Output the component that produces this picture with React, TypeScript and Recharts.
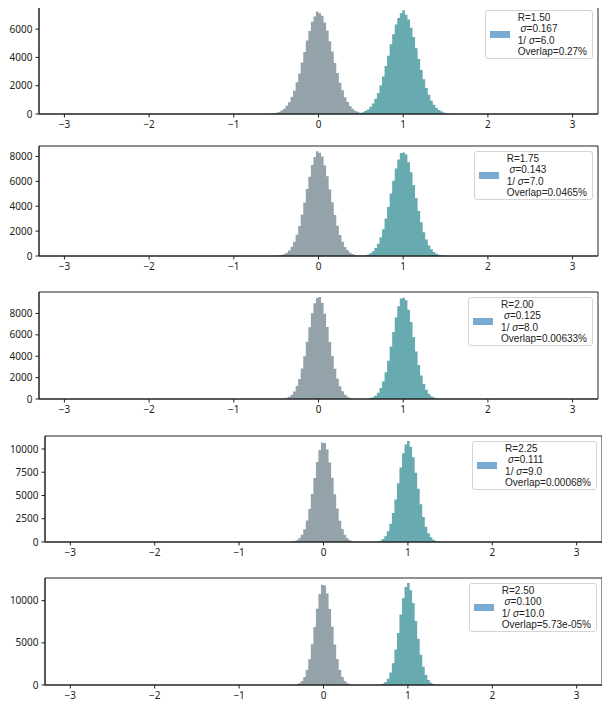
import React from 'react';
import { ComposedChart, Area, XAxis, YAxis, Legend, ReferenceArea } from 'recharts';

// Shared histogram bin edges (bin width 0.03)
const binEdges = [
  -0.66, -0.63, -0.6, -0.57, -0.54, -0.51, -0.48, -0.45, -0.42, -0.39, -0.36, -0.33, -0.3, -0.27, -0.24, -0.21,
  -0.18, -0.15, -0.12, -0.09, -0.06, -0.03, 0, 0.03, 0.06, 0.09, 0.12, 0.15, 0.18, 0.21, 0.24, 0.27, 0.3, 0.33,
  0.36, 0.39, 0.42, 0.45, 0.48, 0.51, 0.54, 0.57, 0.6, 0.63, 0.66, 0.69, 0.72, 0.75, 0.78, 0.81, 0.84, 0.87, 0.9,
  0.93, 0.96, 0.99, 1.02, 1.05, 1.08, 1.11, 1.14, 1.17, 1.2, 1.23, 1.26, 1.29, 1.32, 1.35, 1.38, 1.41, 1.44, 1.47,
  1.5, 1.53, 1.56, 1.59, 1.62, 1.65, 1.68,
];
// gray histogram starts at binEdges[0], teal histogram starts at binEdges[33]
const GRAY_START = 0;
const TEAL_START = 33;

const xTicks = [-3, -2, -1, 0, 1, 2, 3];
const xDomain = [-3.3, 3.3];

// Panel 1
const gray1 = [
  3, 9, 14, 30, 47, 91, 143, 245, 368, 580, 836, 1215, 1650, 2241, 2870, 3640, 4378, 5190, 5870, 6520, 6890, 7240,
  7120, 6950, 6470, 5910, 5150, 4420, 3600, 2905, 2210, 1680, 1190, 850, 565, 380, 232, 151, 84, 52, 26, 16, 7, 4,
];
const teal1 = [
  2, 7, 11, 25, 40, 76, 120, 208, 318, 505, 735, 1085, 1490, 2040, 2645, 3390, 4120, 4935, 5640, 6330, 6780, 7130,
  7340, 7010, 6680, 6090, 5440, 4645, 3890, 3110, 2450, 1830, 1355, 945, 660, 428, 282, 170, 106, 58, 35, 18, 11, 4, 3,
];
const yTicks1 = [0, 2000, 4000, 6000];
const legend1 = ['1.50', '0.167', '6.0', '0.27%'];

// Panel 2
const gray2 = [
  0, 1, 2, 5, 9, 22, 40, 84, 148, 270, 446, 745, 1138, 1715, 2410, 3315, 4290, 5380, 6370, 7320, 7950, 8420,
  8290, 8000, 7280, 6410, 5340, 4315, 3290, 2435, 1695, 1150, 730, 458, 262, 154, 79, 43, 20, 11, 4, 2, 1, 0,
];
const teal2 = [
  0, 1, 1, 3, 7, 17, 31, 68, 120, 226, 378, 636, 985, 1510, 2150, 3005, 3940, 5020, 6040, 7035, 7760, 8270,
  8310, 8150, 7530, 6730, 5700, 4665, 3610, 2710, 1915, 1320, 850, 540, 316, 186, 98, 55, 25, 14, 6, 3, 1, 0, 0,
];
const yTicks2 = [0, 2000, 4000, 6000, 8000];
const legend2 = ['1.75', '0.143', '7.0', '0.0465%'];

// Panel 3
const gray3 = [
  0, 0, 0, 0, 1, 4, 8, 23, 48, 108, 209, 405, 705, 1205, 1880, 2850, 3990, 5360, 6710, 8010, 8950, 9440,
  9530, 8990, 7980, 6745, 5330, 4020, 2825, 1905, 1188, 718, 396, 215, 104, 51, 21, 9, 3, 1, 0, 0, 0, 0,
];
const teal3 = [
  0, 0, 0, 0, 1, 3, 6, 18, 37, 85, 168, 330, 585, 1020, 1625, 2510, 3580, 4900, 6255, 7620, 8670, 9400,
  9480, 9230, 8340, 7190, 5790, 4450, 3190, 2190, 1395, 856, 484, 267, 132, 66, 29, 13, 5, 2, 1, 0, 0, 0, 0,
];
const yTicks3 = [0, 2000, 4000, 6000, 8000];
const legend3 = ['2.00', '0.125', '8.0', '0.00633%'];

// Panel 4
const gray4 = [
  0, 0, 0, 0, 0, 1, 2, 5, 13, 37, 85, 196, 398, 780, 1380, 2320, 3560, 5165, 6875, 8600, 9900, 10700,
  10640, 9950, 8555, 6910, 5130, 3590, 2295, 1392, 768, 404, 191, 89, 35, 15, 5, 2, 1, 0, 0, 0, 0, 0,
];
const teal4 = [
  0, 0, 0, 0, 0, 0, 1, 4, 11, 26, 67, 146, 320, 620, 1160, 1950, 3130, 4580, 6320, 8020, 9550, 10480,
  10850, 10230, 9100, 7450, 5735, 4060, 2700, 1650, 952, 500, 251, 112, 50, 18, 7, 2, 1, 0, 0, 0, 0, 0, 0,
];
const yTicks4 = [0, 2500, 5000, 7500, 10000];
const legend4 = ['2.25', '0.111', '9.0', '0.00068%'];

// Panel 5
const gray5 = [
  0, 0, 0, 0, 0, 0, 0, 1, 3, 11, 30, 86, 204, 468, 945, 1795, 3055, 4830, 6880, 9050, 10790, 11880,
  11790, 10840, 9015, 6910, 4795, 3080, 1780, 958, 460, 208, 82, 32, 11, 3, 1, 0, 0, 0, 0, 0, 0, 0,
];
const teal5 = [
  0, 0, 0, 0, 0, 0, 0, 0, 2, 7, 21, 63, 150, 360, 750, 1475, 2575, 4200, 6160, 8360, 10270, 11620,
  12080, 11230, 9710, 7600, 5490, 3590, 2170, 1180, 598, 270, 116, 43, 15, 5, 1, 0, 0, 0, 0, 0, 0, 0, 0,
];
const yTicks5 = [0, 5000, 10000];
const legend5 = ['2.50', '0.100', '10.0', '5.73e-05%'];

const panelData = [
  { gray: gray1, teal: teal1, yTicks: yTicks1, legend: legend1 },
  { gray: gray2, teal: teal2, yTicks: yTicks2, legend: legend2 },
  { gray: gray3, teal: teal3, yTicks: yTicks3, legend: legend3 },
  { gray: gray4, teal: teal4, yTicks: yTicks4, legend: legend4 },
  { gray: gray5, teal: teal5, yTicks: yTicks5, legend: legend5 },
];

// Layout (plot-area frames in page pixels)
const frames = [
  { left: 39, right: 598, top: 5, bottom: 114 },
  { left: 39, right: 598, top: 146, bottom: 256 },
  { left: 39, right: 598, top: 292, bottom: 399 },
  { left: 45, right: 602, top: 436, bottom: 542 },
  { left: 45, right: 602, top: 578, bottom: 685 },
];

const W = 610;
const H = 708;
const PAD_TOP = 4;
const X_AXIS_H = 24;
const FONT = '"Noto Sans", "DejaVu Sans", sans-serif';
const LEGEND_FONT = '"Liberation Sans", Arial, sans-serif';
const INK = '#222222';
const GRAY = '#93a3a9';
const TEAL = '#67aab0';
const PATCH = '#78aad2';

function buildTable(gray: number[], teal: number[]) {
  return binEdges.map((x, i) => {
    const gi = i - GRAY_START;
    const ti = i - TEAL_START;
    return {
      x,
      gray: gi >= 0 && gi < gray.length ? gray[gi] : 0,
      teal: ti >= 0 && ti < teal.length ? teal[ti] : 0,
    };
  });
}

const fmtX = (v: number) => (v < 0 ? '\u2212' + Math.abs(v) : String(v));

function LegendBox({ vals }: { vals: string[] }) {
  const [r, s, inv, ov] = vals;
  return (
    <div
      style={{
        display: 'flex',
        alignItems: 'center',
        background: 'rgba(255,255,255,0.85)',
        border: '1px solid #d4d4d4',
        borderRadius: 3,
        padding: '1px 5px 1px 4px',
        fontFamily: LEGEND_FONT,
        fontSize: 10,
        color: INK,
        lineHeight: '11.3px',
        boxSizing: 'border-box',
      }}
    >
      <div style={{ width: 20, height: 7, background: PATCH, marginRight: 8, flex: 'none' }} />
      <div style={{ whiteSpace: 'pre' }}>
        <div>{`R=${r}`}</div>
        <div>
          {'\u00a0'}
          <i>σ</i>
          {`=${s}`}
        </div>
        <div>
          {'1/\u00a0'}
          <i>σ</i>
          {`=${inv}`}
        </div>
        <div>{`Overlap=${ov}`}</div>
      </div>
    </div>
  );
}

function Panel({ idx }: { idx: number }) {
  const d = panelData[idx];
  const f = frames[idx];
  const table = buildTable(d.gray, d.teal);
  const yTop = Math.max(...d.gray, ...d.teal) * 1.05;
  const height = f.bottom - f.top + PAD_TOP + X_AXIS_H;
  return (
    <div style={{ position: 'absolute', left: 0, top: f.top - PAD_TOP, width: W, height }}>
      <ComposedChart
        width={W}
        height={height}
        data={table}
        margin={{ top: PAD_TOP, right: W - f.right, bottom: 0, left: 0 }}
      >
        <XAxis
          type="number"
          dataKey="x"
          domain={xDomain}
          ticks={xTicks}
          allowDataOverflow
          tickFormatter={fmtX}
          height={X_AXIS_H}
          stroke={INK}
          tickSize={3.5}
          tickMargin={3}
          tick={{ fill: INK, fontSize: 10, fontFamily: FONT }}
          interval={0}
        />
        <YAxis
          type="number"
          domain={[0, yTop]}
          allowDataOverflow
          ticks={d.yTicks}
          width={f.left}
          stroke={INK}
          tickSize={3.5}
          tickMargin={3}
          interval={0}
          tick={{ fill: INK, fontSize: 10, fontFamily: FONT }}
        />
        <Area
          type="stepAfter"
          dataKey="gray"
          fill={GRAY}
          fillOpacity={1}
          stroke="none"
          isAnimationActive={false}
          baseValue={0}
        />
        <Area
          type="stepAfter"
          dataKey="teal"
          fill={TEAL}
          fillOpacity={1}
          stroke="none"
          isAnimationActive={false}
          baseValue={0}
        />
        <ReferenceArea
          x1={xDomain[0]}
          x2={xDomain[1]}
          y1={0}
          y2={yTop}
          fill="none"
          fillOpacity={0}
          stroke={INK}
          strokeWidth={1}
          ifOverflow="visible"
        />
        <Legend
          layout="vertical"
          align="center"
          verticalAlign="middle"
          content={() => <LegendBox vals={d.legend} />}
          wrapperStyle={{
            top: PAD_TOP + 5,
            right: W - f.right + 5,
            left: 'auto',
            bottom: 'auto',
            width: 'auto',
            height: 'auto',
          }}
        />
      </ComposedChart>
    </div>
  );
}

export default function App() {
  return (
    <div style={{ position: 'relative', width: W, height: H, margin: -8, background: '#fff' }}>
      {panelData.map((_, i) => (
        <Panel key={i} idx={i} />
      ))}
    </div>
  );
}
